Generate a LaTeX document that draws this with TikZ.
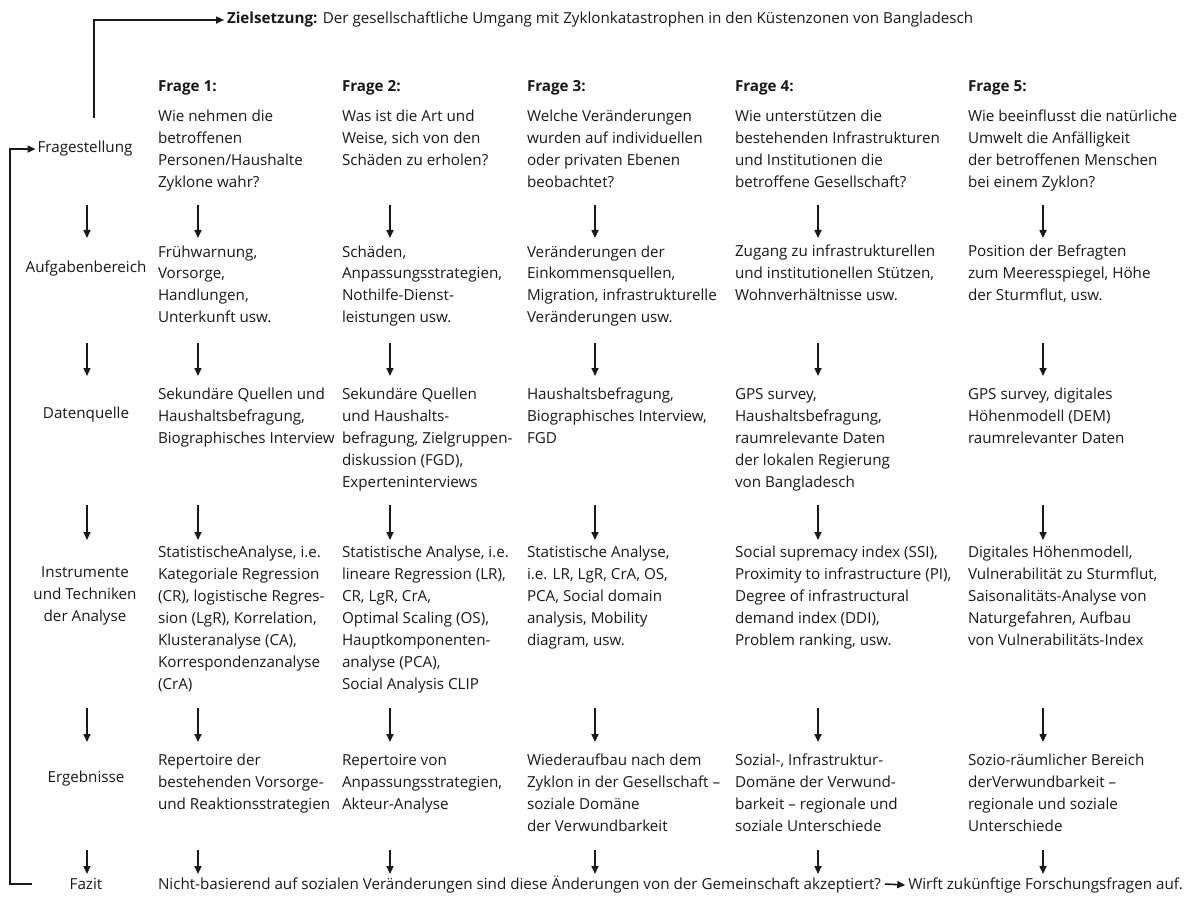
\documentclass[tikz,border=0pt]{standalone}
\usepackage{fontspec}
\setmainfont{Open Sans}
\usetikzlibrary{arrows.meta}
\begin{document}
\begin{tikzpicture}[x=1pt,y=-1pt,
  txt/.style={anchor=base west,align=left,inner sep=0pt,outer sep=0pt,font=\fontsize{15.2}{22}\selectfont,text=black!90},
  lbl/.style={anchor=base,align=center,inner sep=0pt,outer sep=0pt,font=\fontsize{15.2}{22}\selectfont,text=black!90},
  arr/.style={line width=1.6pt,-{Triangle[length=8pt,width=7pt]},black!90}]
\useasboundingbox (0,0) rectangle (1187,904);
\fill[white] (0,0) rectangle (1187,904);

% top objective
\node[txt] (ziel) at (227,24) {\textbf{Zielsetzung:} Der gesellschaftliche Umgang mit Zyklonkatastrophen in den Küstenzonen von Bangladesch};

% headers
\node[txt] (h1) at (158,92) {\textbf{Frage 1:}};
\node[txt] (h2) at (342,92) {\textbf{Frage 2:}};
\node[txt] (h3) at (527,92) {\textbf{Frage 3:}};
\node[txt] (h4) at (735,92) {\textbf{Frage 4:}};
\node[txt] (h5) at (968,92) {\textbf{Frage 5:}};

% left labels (base = last line)
\node[lbl] (frag) at (85,153) {Fragestellung};
\node[lbl] (aufg) at (86,273) {Aufgabenbereich};
\node[lbl] (daten) at (86,418) {Datenquelle};
\node[lbl] (instr) at (85,621) {Instrumente\\und Techniken\\der Analyse};
\node[lbl] (erg) at (86,782) {Ergebnisse};
\node[lbl] (fazit) at (86,889) {Fazit};

% questions (first baseline 122)
\node[txt] (q1) at (158,188) {Wie nehmen die\\betroffenen\\Personen/Haushalte\\Zyklone wahr?};
\node[txt] (q2) at (342,166) {Was ist die Art und\\Weise, sich von den\\Schäden zu erholen?};
\node[txt] (q3) at (527,188) {Welche Veränderungen\\wurden auf individuellen\\oder privaten Ebenen\\beobachtet?};
\node[txt] (q4) at (735,188) {Wie unterstützen die\\bestehenden Infrastrukturen\\und Institutionen die\\betroffene Gesellschaft?};
\node[txt] (q5) at (968,188) {Wie beeinflusst die natürliche\\Umwelt die Anfälligkeit\\der betroffenen Menschen\\bei einem Zyklon?};

% Aufgabenbereich (first baseline 257)
\node[txt] (a1) at (158,323) {Frühwarnung,\\Vorsorge,\\Handlungen,\\Unterkunft usw.};
\node[txt] (a2) at (342,323) {Schäden,\\Anpassungsstrategien,\\Nothilfe-Dienst-\\leistungen usw.};
\node[txt] (a3) at (527,323) {Veränderungen der\\Einkommensquellen,\\Migration, infrastrukturelle\\Veränderungen usw.};
\node[txt] (a4) at (735,301) {Zugang zu infrastrukturellen\\und institutionellen Stützen,\\Wohnverhältnisse usw.};
\node[txt] (a5) at (968,301) {Position der Befragten\\zum Meeresspiegel, Höhe\\der Sturmflut, usw.};

% Datenquelle (first baseline 399)
\node[txt] (d1) at (158,443) {Sekundäre Quellen und\\Haushaltsbefragung,\\Biographisches Interview};
\node[txt] (d2) at (342,487) {Sekundäre Quellen\\und Haushalts-\\befragung, Zielgruppen-\\diskussion (FGD),\\Experteninterviews};
\node[txt] (d3) at (527,443) {Haushaltsbefragung,\\Biographisches Interview,\\FGD};
\node[txt] (d4) at (735,487) {GPS survey,\\Haushaltsbefragung,\\raumrelevante Daten\\der lokalen Regierung\\von Bangladesch};
\node[txt] (d5) at (968,443) {GPS survey, digitales\\Höhenmodell (DEM)\\raumrelevanter Daten};

% Instrumente (first baseline 557)
\node[txt] (i1) at (158,689) {StatistischeAnalyse, i.e.\\Kategoriale Regression\\(CR), logistische Regres-\\sion (LgR), Korrelation,\\Klusteranalyse (CA),\\Korrespondenzanalyse\\(CrA)};
\node[txt] (i2) at (342,689) {Statistische Analyse, i.e.\\lineare Regression (LR),\\CR, LgR, CrA,\\Optimal Scaling (OS),\\Hauptkomponenten-\\analyse (PCA),\\Social Analysis CLIP};
\node[txt] (i3) at (527,645) {Statistische Analyse,\\i.e. LR, LgR, CrA, OS,\\PCA, Social domain\\analysis, Mobility\\diagram, usw.};
\node[txt] (i4) at (735,645) {Social supremacy index (SSI),\\Proximity to infrastructure (PI),\\Degree of infrastructural\\demand index (DDI),\\Problem ranking, usw.};
\node[txt] (i5) at (968,645) {Digitales Höhenmodell,\\Vulnerabilität zu Sturmflut,\\Saisonalitäts-Analyse von\\Naturgefahren, Aufbau\\von Vulnerabilitäts-Index};

% Ergebnisse (first baseline 765)
\node[txt] (e1) at (158,809) {Repertoire der\\bestehenden Vorsorge-\\und Reaktionsstrategien};
\node[txt] (e2) at (342,809) {Repertoire von\\Anpassungsstrategien,\\Akteur-Analyse};
\node[txt] (e3) at (527,831) {Wiederaufbau nach dem\\Zyklon in der Gesellschaft –\\soziale Domäne\\der Verwundbarkeit};
\node[txt] (e4) at (735,831) {Sozial-, Infrastruktur-\\Domäne der Verwund-\\barkeit – regionale und\\soziale Unterschiede};
\node[txt] (e5) at (968,831) {Sozio-räumlicher Bereich\\derVerwundbarkeit –\\regionale und soziale\\Unterschiede};

% Fazit
\node[txt] (f1) at (158,889) {Nicht-basierend auf sozialen Veränderungen sind diese Änderungen von der Gemeinschaft akzeptiert?};
\node[txt,anchor=base east] (f2) at (1183,889) {Wirft zukünftige Forschungsfragen auf.};
\draw[arr] ([xshift=4pt]f1.east) -- ([xshift=-3pt]f2.west);

% down arrows
\foreach \c [count=\k] in {87,198,390,595,818,1043}{
  \foreach \ya/\yb [count=\r] in {205/238,343/376,505/540,708/742,850/874}{
    \coordinate (s\k\r) at (\c,\ya);
    \coordinate (t\k\r) at (\c,\yb);
    \draw[arr] (s\k\r) -- (t\k\r);
  }
}

% objective connector
\coordinate (zstart) at (94,118);
\draw[arr] (zstart) |- ([xshift=-3pt]ziel.west);

% feedback loop
\coordinate (loopstart) at (32,884);
\coordinate (loopcorner) at (10,884);
\draw[arr] (loopstart) -- (loopcorner) |- ([xshift=-2pt]frag.west);
\end{tikzpicture}
\end{document}
